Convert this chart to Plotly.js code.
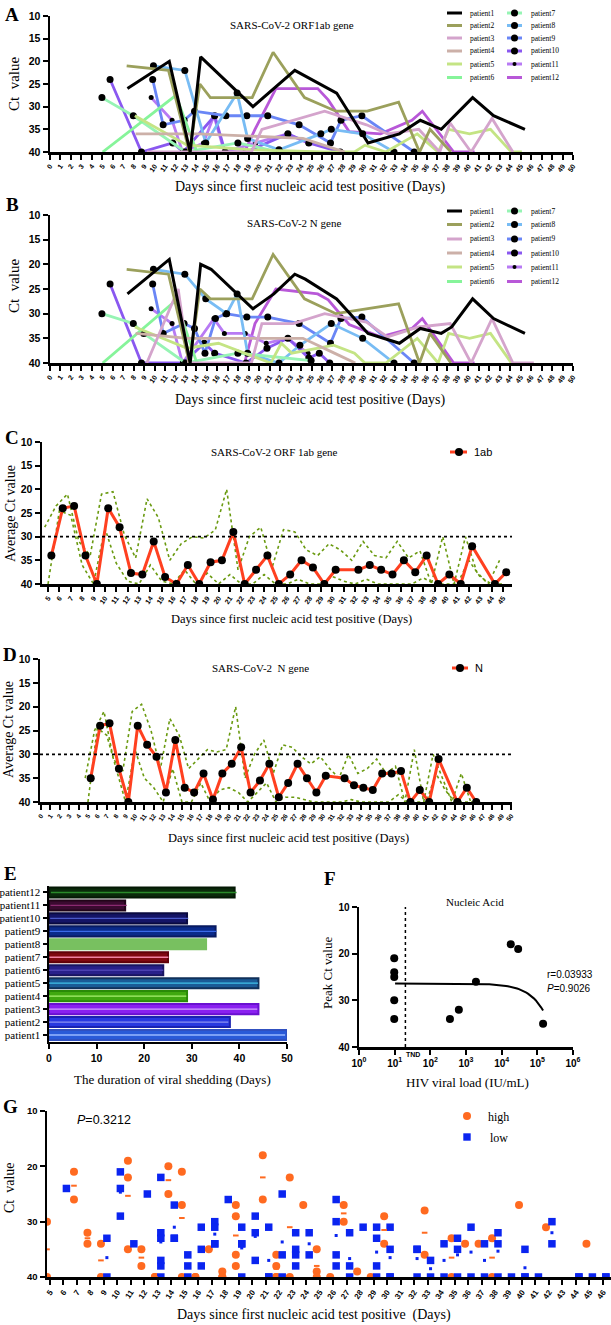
<!DOCTYPE html>
<html><head><meta charset="utf-8">
<script src="https://cdn.plot.ly/plotly-3.0.1.min.js"></script>
<style>html,body{margin:0;padding:0;background:#fff}#chart{width:611px;height:1325px}</style>
</head><body><div id="chart"></div>
<script>
// ---------- DATA ----------
const patientNames = ['patient1','patient2','patient3','patient4','patient5','patient6','patient7','patient8','patient9','patient10','patient11','patient12'];
const lineColors = ['#000000','#9ba05c','#d4a4cc','#ccb0a8','#c4e484','#86f49a','#96f4b4','#78bcf4','#6a86f6','#8a58f0','#b87af4','#b858d8'];

// Panel A: ORF1ab gene Ct per patient
const orfDays = [
  [7,11,13,14,19,23,27,30,33,35,37,40,42,45],
  [7,11,13,14,15,19,21,24,27,30,33,35,36,38],
  [9,13,19,20,26,30,32,35,37,38,40,42,44],
  [8,14,19,24,28],
  [8,13,19,26,29,30,32,35,37,38,40,42,44,45],
  [5,12,14],
  [5,8,13,18,22],
  [10,13,15,18,19,22,26,27,30,33],
  [10,11,13,14,17,19,21,24,27,28,30,35],
  [6,9,12,13,16,17,19,23,25,28],
  [10,12,13,15,16,17,20,23,25],
  [19,20,22,26,27,29,32,35,36,39,41]
];
const orfCt = [
  [26,20,40,19,30,22,27,38,36,33,35,28,32,35],
  [21,22,40,25,28,28,18,28,31,31,29,40,35,40],
  [40,40,40,35,31,34,36,35,40,33.6,40,32.6,40],
  [36,36,36.5,37,40],
  [32,38.5,39.5,40,40,38.5,40,36,40,35,36,35,40,40],
  [40,27.5,40],
  [28,32,40,38,40],
  [21,22,38,27,37,39.5,36,35,36,40],
  [24,34,33,31,32,32,32,34,38,33,32,40],
  [24,40,38,40,32,40,40,36,38,40],
  [28,33,40,38,32,40,38,36,38],
  [40,35,26,26,28.5,35.5,36,33,31,40,40]
];
// Panel B: N gene Ct per patient
const nDays = [
  [7,11,13,14,15,19,21,23,24,27,30,33,35,37,38,40,42,45],
  [7,11,13,14,15,19,21,24,27,30,33,35,36,38],
  [9,12,13,19,20,23,26,30,32,35,38,40,42,44,46],
  [8,13,19,24,27,29],
  [8,13,16,21,22,23,27,29,30,32,35,37,38,40,42,44],
  [5,12,14],
  [5,8,9,13,18,25],
  [10,13,15,17,18,19,22,24,27,30,33],
  [10,11,13,14,15,16,17,19,21,24,27,28,30,35],
  [6,9,13,15,16,19,21,23,25,26,27],
  [10,12,13,16,17,19,21,23,25],
  [19,20,22,26,27,29,32,35,36,39,41]
];
const nCt = [
  [26,19,40,20,21,29,26,22,23,27,34,36,33,34,32.7,27,31,34],
  [21,22,40,25,27,27,18,27,30,29,28,40,34,40],
  [40,25,40,40,32,32,30,31.7,34.7,32.7,32,40,31,40,40],
  [34,35,35,35,38,40],
  [32.7,37,36,40,36,38,36.4,38,40,40,35,40,34,35,34,40],
  [40,27.3,40],
  [30,32,34,40,38,39.5],
  [21,22,27,30,26,38,40,36.4,32,35,40],
  [24,34,32,33,38,31,30,30.7,30.7,32,36,31,30.7,40],
  [24,40,40,36,38,40,37,35,39,38,40],
  [29,32,40,31,34,34,36,35,38],
  [40,32,25,26,27.2,32.2,34.7,33,31,40,40]
];

// Panel C: average ORF1ab Ct
const cDays = [5,6,7,8,9,10,11,12,13,14,15,16,17,18,19,20,21,22,23,24,25,26,27,28,29,30,32,33,34,35,36,37,38,39,40,41,42,44,45];
const cMean = [34,24,23.5,34,40,24,28,37.7,38,31,38.5,40,36,40,35.4,35,29,40,37,34,40,38,35,36.5,40,37,37,36,37,38,35,37.5,34,40,38,40,32,40,37.5];
const cBandDays = [5,6,7,8,9,10,11,12,13,14,15,16,17,18,19,20,21,22,23,24,25,26,27,28,29,30,31,32,33,34,35,36,37,38,39,40,41,42,43,44,45];
const cUpper = [28,23.5,21,31,34,21,20.5,29.6,34.5,22,26,35,31.5,30,30.3,28.6,20,37,30,28,36.5,28.5,29,32.8,34,31.5,32.8,35,31,34,34.5,31,34.5,33,40,30,40,30,37.5,40,35];
const cLower = [40,24.5,25.5,36,40,28.2,35.6,39.4,40,36,39.4,40,37,40,37.7,40,38,40,40,38,40,40,39,40,40,38.4,39.4,40,39,40,40,40,40,38.7,40,40,40,35,38.5,40,40];

// Panel D: average N Ct
const dDays = [5,6,7,8,9,10,11,12,13,14,15,16,17,18,19,20,21,22,23,24,25,26,27,28,29,30,32,33,34,35,36,37,38,39,40,41,42,44,45,46];
const dMean = [35,24,23.5,33,40,24,28,30.5,38,27,37,38,34,39.5,34,32,28.5,38,35.5,32,39,36,32,35,38,34.5,35,36.5,37,37.5,34,34,33.5,40,37.5,40,31,40,37,40];
const dBandDays = [5,6,7,8,9,10,11,12,13,14,15,16,17,18,19,20,21,22,23,24,25,26,27,28,29,30,31,32,33,34,35,36,37,38,39,40,41,42,43,44,45,46];
const dUpper = [35,25,21,31,33.5,21,19.5,25,33,22.5,26,33,31,29,29.5,29,20,35,30,27,34,28,28.5,30.5,32,30.5,33,35,30,34,33,31,34,32.5,40,29,40,30,35,40,34,40];
const dLower = [40,24.5,26,33,40,29,35,37,40,33,40,40,36,40,37.5,37,38,40,38,36,40,39,39,39.5,40,40,40,40,39.5,40,40,40,40,38.5,40,40,40,34,37.5,40,40,40];
const ctThreshold = 30;

// Panel E: duration of viral shedding
const shedDays = [50,38,44,29,44,24,25,33,35,29,16,39];
const barFill   = ['#2a5ad8','#2838e0','#8a20f0','#40a810','#1a5a96','#28208a','#800810','#78c060','#0a2a8a','#141466','#3a0a30','#0a2a0a'];
const barEdge   = ['#3050c0','#1a22b0','#6a10d0','#2a8a08','#10305a','#181460','#600008','#78c060','#081a60','#0a0a40','#200418','#041804'];
const barStripe = ['#9ab8ff','#8a90f0','#d0a0ff','#a8f070','#40c0e8','#4a40b0','#f080a0','#78c060','#3a6ae8','#4a58c8','#8a2a70','#2a8a2a'];

// Panel F: HIV viral load vs peak Ct
const fLoad = [10,10,10,10,10,355,630,1900,18000,29000,145000];
const fPeak = [21,24,25,30,34,34,32,26,18,19,35];
const tndLoad = 20;

// Panel G: Ct by HIV load group
const gDays = [5,6,7,8,9,10,11,12,13,14,15,16,17,18,19,20,21,22,23,24,25,26,27,28,29,30,31,32,33,34,35,36,37,38,39,40,41,42,43,44,45,46];
const highDays = [5,5,7,7,8,8,9,9,11,11,11,12,12,13,13,14,14,15,15,15,16,16,17,18,18,18,19,19,19,19,21,21,22,22,22,22,23,23,24,25,25,25,26,27,27,28,29,30,30,33,33,35,35,36,37,38,38,40,42,45];
const highCt   = [30,40,21,26,32,34,34,40,19,22,35,35,38,40,40,20,25,21,27,40,40,40,35,39,40,40,27,29,36,38,18,26,36,38,40,40,22,40,27,35,39,40,40,27,30,39,40,29,34,28,36,33,40,34,34,33,40,27,31,34];
const lowDays = [6,9,9,10,10,10,11,12,13,13,13,13,13,13,14,14,14,15,15,15,16,16,16,17,17,17,17,18,19,19,19,19,20,20,20,21,21,21,22,22,22,23,23,23,23,24,24,26,26,26,26,27,27,27,28,29,29,29,29,30,30,30,30,32,32,32,33,33,34,34,35,35,35,36,36,37,37,38,38,38,39,40,40,40,41,42,42,44,44,45,46,46];
const lowCt   = [24,33,40,21,24,29,34,25,22,32,33,37,38,40,27,33,33,36,38,40,31,35,38,30,31,34,34,26,31,34,34,40,29,32,37,31,40,40,25,36,40,32,35,36,38,32,36,26,30,36,38,32,38,40,31,31,33,38,40,31,35,40,40,35,35,40,37,40,34,40,33,35,40,31,40,34,40,32,34,40,40,35,40,40,40,30,34,40,40,40,40,40];

// ---------- LAYOUT HELPERS ----------
const W = 611, H = 1325;
const px = v => v / W;
const py = v => 1 - v / H;
const SERIF = 'Liberation Serif', SANS = 'Liberation Sans';

function axBase(extra) {
  return Object.assign({
    showline: true, linecolor: '#000', linewidth: 2.5, mirror: false,
    ticks: 'outside', tickwidth: 2, ticklen: 4, tickcolor: '#000',
    showgrid: false, zeroline: false, fixedrange: true,
    tickfont: {family: SANS, size: 10, color: '#000', weight: 700}
  }, extra);
}
const days0to50 = Array.from({length: 51}, (_, i) => i);
const ctTicks = [10, 15, 20, 25, 30, 35, 40];

const annotations = [];
const shapes = [];
function ann(text, x, y, size, opt) {
  annotations.push(Object.assign({
    text: text, x: px(x), y: py(y), xref: 'paper', yref: 'paper',
    showarrow: false, xanchor: 'center', yanchor: 'middle',
    font: {family: SERIF, size: size, color: '#000'}
  }, opt || {}));
}
function lineShape(x0, x1, y, color, width) {
  shapes.push({type: 'line', xref: 'paper', yref: 'paper', x0: px(x0), x1: px(x1), y0: py(y), y1: py(y),
    line: {color: color, width: width}});
}
function dotShape(cx, cy, r, color, square) {
  shapes.push({type: square ? 'rect' : 'circle', xref: 'paper', yref: 'paper',
    x0: px(cx - r), x1: px(cx + r), y0: py(cy + r), y1: py(cy - r),
    fillcolor: color, line: {color: color, width: 0}});
}

const traces = [];
const hasMarker = [false,false,false,false,false,false,true,true,true,true,true,false];

// Panels A and B (spaghetti)
function addPatients(daysArr, ctArr, xa, ya) {
  for (let i = 11; i >= 0; i--) {
    traces.push({
      type: 'scatter', x: daysArr[i], y: ctArr[i], xaxis: xa, yaxis: ya,
      mode: hasMarker[i] ? 'lines+markers' : 'lines', name: patientNames[i], showlegend: false,
      line: {color: lineColors[i], width: i === 0 ? 3 : 2.8},
      marker: {color: '#000', size: i === 10 ? 5 : 7}, hoverinfo: 'skip'
    });
  }
}
addPatients(orfDays, orfCt, 'x', 'y');
addPatients(nDays, nCt, 'x2', 'y2');

// Custom two-column legends for A and B
function patientLegend(rowsY, textSize) {
  patientNames.forEach((nm, i) => {
    const col = i < 6 ? 0 : 1, row = i % 6;
    const x0 = col === 0 ? 447 : 507, x1 = x0 + 15, tx = col === 0 ? 468 : 529;
    const y = rowsY[row];
    lineShape(x0, x1, y, lineColors[i], 3);
    if (hasMarker[i]) dotShape((x0 + x1) / 2, y, i === 10 ? 2 : 3.5, '#000');
    ann(nm, tx, y, textSize, {xanchor: 'left'});
  });
}
patientLegend([13, 25.5, 38, 51, 64, 77.5], 7.5);
patientLegend([211, 224.5, 239, 253, 267, 281.5], 7.5);

// Panels C and D (average)
function addAverage(bandDays, upper, lower, days, mean, xa, ya, name) {
  [upper, lower].forEach(arr => traces.push({
    type: 'scatter', x: bandDays, y: arr, xaxis: xa, yaxis: ya, mode: 'lines', showlegend: false,
    line: {color: '#6a9a10', width: 1.6, dash: 'dot'}, hoverinfo: 'skip'
  }));
  traces.push({
    type: 'scatter', x: days, y: mean, xaxis: xa, yaxis: ya, mode: 'lines+markers', name: name, showlegend: false,
    line: {color: '#ff4020', width: 3}, marker: {color: '#000', size: 8}, hoverinfo: 'skip'
  });
  shapes.push({type: 'line', xref: xa + ' domain', yref: ya, x0: 0, x1: 1, y0: ctThreshold, y1: ctThreshold,
    line: {color: '#000', width: 1.6, dash: 'dot'}});
}
addAverage(cBandDays, cUpper, cLower, cDays, cMean, 'x3', 'y3', '1ab');
addAverage(dBandDays, dUpper, dLower, dDays, dMean, 'x4', 'y4', 'N');
// legends C, D
lineShape(450, 467, 452, '#ff4020', 3); dotShape(459, 452, 4, '#000');
ann('1ab', 472, 452, 11, {xanchor: 'left', font: {family: SANS, size: 11, color: '#000'}});
lineShape(452, 468, 668, '#ff4020', 3); dotShape(460, 668, 4, '#000');
ann('N', 473, 668, 11, {xanchor: 'left', font: {family: SANS, size: 11, color: '#000'}});

// Panel E (horizontal bars)
traces.push({
  type: 'bar', orientation: 'h', x: shedDays, y: patientNames, xaxis: 'x5', yaxis: 'y5', showlegend: false,
  marker: {color: barFill, line: {color: barEdge, width: 2}}, hoverinfo: 'skip'
});
patientNames.forEach((nm, i) => {
  if (i === 7) return;
  traces.push({
    type: 'scatter', x: [0, shedDays[i]], y: [nm, nm], xaxis: 'x5', yaxis: 'y5', mode: 'lines', showlegend: false,
    line: {color: barStripe[i], width: 1.3}, hoverinfo: 'skip'
  });
});

// Panel F (scatter + linear fit)
traces.push({
  type: 'scatter', x: fLoad, y: fPeak, xaxis: 'x6', yaxis: 'y6', mode: 'markers', showlegend: false,
  marker: {color: '#000', size: 8}, hoverinfo: 'skip'
});
(function () {
  const n = fLoad.length;
  const mx = fLoad.reduce((a, b) => a + b, 0) / n, my = fPeak.reduce((a, b) => a + b, 0) / n;
  let sxy = 0, sxx = 0;
  for (let i = 0; i < n; i++) { sxy += (fLoad[i] - mx) * (fPeak[i] - my); sxx += (fLoad[i] - mx) ** 2; }
  const b = sxy / sxx, a = my - b * mx;
  const lo = Math.log10(Math.min(...fLoad)), hi = Math.log10(Math.max(...fLoad));
  const fx = [], fy = [];
  for (let k = 0; k <= 80; k++) { const xv = Math.pow(10, lo + (hi - lo) * k / 80); fx.push(xv); fy.push(a + b * xv); }
  traces.push({type: 'scatter', x: fx, y: fy, xaxis: 'x6', yaxis: 'y6', mode: 'lines', showlegend: false,
    line: {color: '#000', width: 2}, hoverinfo: 'skip'});
})();
shapes.push({type: 'line', xref: 'x6', yref: 'y6 domain', x0: tndLoad, x1: tndLoad, y0: 0, y1: 1,
  line: {color: '#000', width: 1.5, dash: 'dot'}});

// Panel G (grouped dot plot + means)
function groupMeans(days, vals) {
  const m = {};
  days.forEach((d, i) => { (m[d] = m[d] || []).push(vals[i]); });
  const xs = [], ys = [];
  Object.keys(m).forEach(k => { if (m[k].length > 1) { xs.push(String(k)); ys.push(m[k].reduce((a, b) => a + b, 0) / m[k].length); } });
  return {xs, ys};
}
const hm = groupMeans(highDays, highCt), lm = groupMeans(lowDays, lowCt);
traces.push({type: 'scatter', x: highDays.map(String), y: highCt, xaxis: 'x7', yaxis: 'y7', mode: 'markers', name: 'high',
  offsetgroup: 'high', alignmentgroup: 'g', showlegend: false,
  marker: {color: '#ff6a20', size: 8, symbol: 'circle'}, hoverinfo: 'skip'});
traces.push({type: 'scatter', x: lowDays.map(String), y: lowCt, xaxis: 'x7', yaxis: 'y7', mode: 'markers', name: 'low',
  offsetgroup: 'low', alignmentgroup: 'g', showlegend: false,
  marker: {color: '#0a24f0', size: 7.5, symbol: 'square'}, hoverinfo: 'skip'});
traces.push({type: 'scatter', x: hm.xs, y: hm.ys, xaxis: 'x7', yaxis: 'y7', mode: 'markers',
  offsetgroup: 'high', alignmentgroup: 'g', showlegend: false,
  marker: {color: '#ff6a20', size: 4, symbol: 'line-ew', line: {color: '#ff6a20', width: 2}}, hoverinfo: 'skip'});
traces.push({type: 'scatter', x: lm.xs, y: lm.ys, xaxis: 'x7', yaxis: 'y7', mode: 'markers',
  offsetgroup: 'low', alignmentgroup: 'g', showlegend: false,
  marker: {color: '#0a24f0', size: 3, symbol: 'square'}, hoverinfo: 'skip'});
// G legend
dotShape(467, 1116, 4, '#ff6a20');
ann('high', 486, 1117, 12, {xanchor: 'left'});
dotShape(467, 1137, 3.7, '#0a24f0', true);
ann('low', 488, 1138, 12, {xanchor: 'left'});
ann('<i>P</i>=0.3212', 75, 1120, 12.5, {xanchor: 'left', font: {family: SANS, size: 12.5, color: '#000'}});

// ---------- Titles and labels ----------
ann('A', 12, 14, 19, {font: {family: SERIF, size: 19, color: '#000', weight: 700}});
ann('B', 12, 205, 19, {font: {family: SERIF, size: 19, color: '#000', weight: 700}});
ann('C', 12, 437, 19, {font: {family: SERIF, size: 19, color: '#000', weight: 700}});
ann('D', 10, 654, 19, {font: {family: SERIF, size: 19, color: '#000', weight: 700}});
ann('E', 10, 873, 19, {font: {family: SERIF, size: 19, color: '#000', weight: 700}});
ann('F', 330, 878, 19, {font: {family: SERIF, size: 19, color: '#000', weight: 700}});
ann('G', 10, 1106, 19, {font: {family: SERIF, size: 19, color: '#000', weight: 700}});

ann('SARS-CoV-2 ORF1ab gene', 292, 25, 11);
ann('SARS-CoV-2 N gene', 294, 223, 11);
ann('SARS-CoV-2 ORF 1ab gene', 274, 452, 11);
ann('SARS-CoV-2  N gene', 260, 668, 11);
ann('Nucleic Acid', 475, 902, 11);

const xTitle = 'Days since first nucleic acid test positive (Days)';
ann(xTitle, 310, 187, 14);
ann(xTitle, 310, 400, 14);
ann(xTitle, 291, 619, 12.5);
ann(xTitle, 288, 838, 12.5);
ann('Days since first nucleic acid test positive  (Days)', 314, 1315, 14);
ann('The duration of viral shedding (Days)', 172, 1079, 13);
ann('HIV viral load (IU/mL)', 467, 1082, 13);

ann('Ct  value', 14, 84, 15, {textangle: -90});
ann('Ct  value', 14, 286, 15, {textangle: -90});
ann('Average Ct value', 10, 514, 14, {textangle: -90});
ann('Average Ct value', 8, 730, 14, {textangle: -90});
ann('Peak Ct value', 327, 973, 13, {textangle: -90});
ann('Ct  value', 9, 1188, 14, {textangle: -90});

ann('r=0.03933', 545, 974, 10, {xanchor: 'left', font: {family: SANS, size: 10, color: '#000'}});
ann('<i>P</i>=0.9026', 545, 988, 10, {xanchor: 'left', font: {family: SANS, size: 10, color: '#000'}});
ann('TND', 404, 1054, 7, {xanchor: 'left', font: {family: SANS, size: 7, color: '#000', weight: 700}});

// ---------- Axes ----------
const xDaysAxis = (dom, anchor, size) => axBase({domain: dom, anchor: anchor, range: [0, 50], tickmode: 'array',
  tickvals: days0to50, ticktext: days0to50.map(String), tickangle: -55, ticklen: 5,
  tickfont: {family: SANS, size: size, color: '#000', weight: 700}});
const yCtAxis = (dom, anchor) => axBase({domain: dom, anchor: anchor, range: [40, 10], tickmode: 'array',
  tickvals: ctTicks, ticklen: 5, tickfont: {family: SANS, size: 10.5, color: '#000', weight: 700}});

const layout = {
  width: W, height: H, margin: {l: 0, r: 0, t: 0, b: 0},
  paper_bgcolor: '#fff', plot_bgcolor: 'rgba(0,0,0,0)', showlegend: false,
  scattermode: 'group', scattergap: 0.12, bargap: 0.22,
  xaxis: xDaysAxis([px(50), px(573)], 'y', 7),
  yaxis: yCtAxis([py(152), py(16)], 'x'),
  xaxis2: xDaysAxis([px(50), px(573)], 'y2', 7),
  yaxis2: yCtAxis([py(363), py(215)], 'x2'),
  xaxis3: axBase({domain: [px(42), px(512)], anchor: 'y3', range: [4.47, 45.8], tickmode: 'array',
    tickvals: cBandDays, tickangle: -55, ticklen: 5, tickfont: {family: SANS, size: 7, color: '#000', weight: 700}}),
  yaxis3: yCtAxis([py(584), py(442)], 'x3'),
  xaxis4: axBase({domain: [px(40), px(512)], anchor: 'y4', range: [-0.1, 50.1], tickmode: 'array',
    tickvals: days0to50, tickangle: -55, ticklen: 5, tickfont: {family: SANS, size: 6.5, color: '#000', weight: 700}}),
  yaxis4: yCtAxis([py(802), py(659)], 'x4'),
  xaxis5: axBase({domain: [px(49), px(287)], anchor: 'y5', range: [0, 50], tickmode: 'array',
    tickvals: [0, 10, 20, 30, 40, 50], ticklen: 5, tickfont: {family: SANS, size: 10.5, color: '#000', weight: 700}}),
  yaxis5: axBase({domain: [py(1041.5), py(886)], anchor: 'x5', type: 'category', categoryorder: 'array',
    categoryarray: patientNames, range: [-0.5, 11.5], ticklen: 4, tickmode: 'array',
    tickvals: patientNames, ticktext: patientNames,
    tickfont: {family: SERIF, size: 11, color: '#000'}}),
  xaxis6: axBase({domain: [px(359), px(573)], anchor: 'y6', type: 'log', range: [0, 6], tickmode: 'array',
    tickvals: [1, 10, 100, 1e3, 1e4, 1e5, 1e6],
    ticktext: ['10<sup>0</sup>','10<sup>1</sup>','10<sup>2</sup>','10<sup>3</sup>','10<sup>4</sup>','10<sup>5</sup>','10<sup>6</sup>'],
    ticklen: 5, tickfont: {family: SANS, size: 10, color: '#000', weight: 700}}),
  yaxis6: axBase({domain: [py(1047), py(907)], anchor: 'x6', range: [40, 10], tickmode: 'array',
    tickvals: [10, 20, 30, 40], ticklen: 5, tickfont: {family: SANS, size: 10, color: '#000', weight: 700}}),
  xaxis7: axBase({domain: [px(47), 1], anchor: 'y7', type: 'category', categoryorder: 'array',
    categoryarray: gDays.map(String), range: [-0.22, 41.6], tickmode: 'array', tickvals: gDays.map(String),
    ticktext: gDays.map(String), tickangle: -55, ticklen: 5,
    tickfont: {family: SANS, size: 8, color: '#000', weight: 700}}),
  yaxis7: axBase({domain: [py(1277), py(1111)], anchor: 'x7', range: [40, 10], tickmode: 'array',
    tickvals: [10, 20, 30, 40], ticklen: 5, tickfont: {family: SANS, size: 9.5, color: '#000', weight: 700}}),
  annotations: annotations,
  shapes: shapes
};

Plotly.newPlot('chart', traces, layout, {staticPlot: true, displayModeBar: false});
</script>
</body></html>
